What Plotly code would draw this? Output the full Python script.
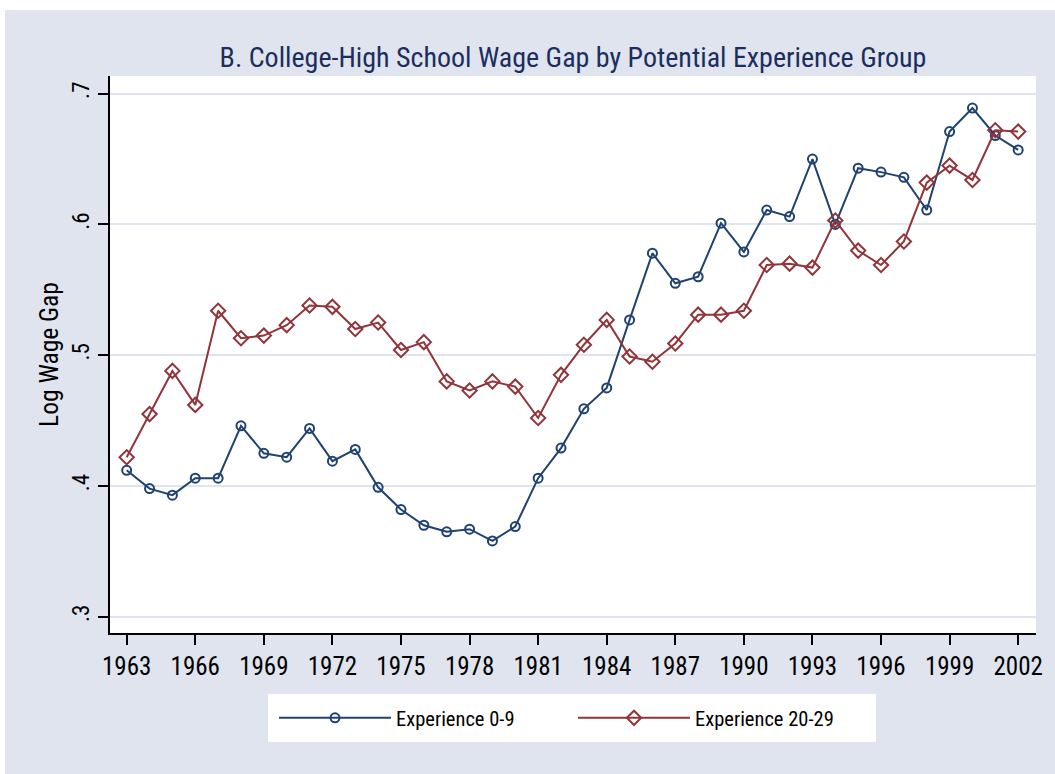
import plotly.graph_objects as go

years = list(range(1963, 2003))
exp_0_9 = [0.412, 0.398, 0.393, 0.406, 0.406, 0.446, 0.425, 0.422, 0.444, 0.419,
           0.428, 0.399, 0.382, 0.370, 0.365, 0.367, 0.358, 0.369, 0.406, 0.429,
           0.459, 0.475, 0.527, 0.578, 0.555, 0.560, 0.601, 0.579, 0.611, 0.606,
           0.650, 0.600, 0.643, 0.640, 0.636, 0.611, 0.671, 0.689, 0.668, 0.657]
exp_20_29 = [0.422, 0.455, 0.488, 0.462, 0.534, 0.513, 0.515, 0.523, 0.538, 0.537,
             0.520, 0.525, 0.504, 0.510, 0.480, 0.473, 0.480, 0.476, 0.452, 0.485,
             0.508, 0.527, 0.499, 0.495, 0.509, 0.531, 0.531, 0.534, 0.569, 0.570,
             0.567, 0.603, 0.580, 0.569, 0.587, 0.632, 0.645, 0.634, 0.672, 0.671]
x_ticks = list(range(1963, 2003, 3))
y_ticks = [0.3, 0.4, 0.5, 0.6, 0.7]
y_tick_text = [".3", ".4", ".5", ".6", ".7"]

NAVY = "#1f4270"
MAROON = "#91353b"
BG = "#dfe4ef"
GRID = "#dfe4ef"
FONT = "Roboto Condensed, Liberation Sans Narrow, Liberation Sans, Arial, sans-serif"

W, H = 1055, 774
L, R, T, B = 110, 19, 76, 141
pw, ph = W - L - R, H - T - B

def px_x(p):
    return (p - L) / pw

def px_y(p):
    return (H - B - p) / ph

fig = go.Figure()
fig.add_trace(go.Scatter(
    x=years, y=exp_0_9, mode="lines+markers", name="Experience 0-9",
    line=dict(color=NAVY, width=2),
    marker=dict(symbol="circle-open", size=9, color=NAVY, line=dict(width=2, color=NAVY)),
))
fig.add_trace(go.Scatter(
    x=years, y=exp_20_29, mode="lines+markers", name="Experience 20-29",
    line=dict(color=MAROON, width=2),
    marker=dict(symbol="diamond-open", size=11, color=MAROON, line=dict(width=2, color=MAROON)),
))

shapes = [
    # white strips outside the graph region
    dict(type="rect", xref="paper", yref="paper", x0=px_x(-50), x1=px_x(W + 50),
         y0=px_y(10), y1=px_y(-50), fillcolor="white", line=dict(width=0), layer="below"),
    dict(type="rect", xref="paper", yref="paper", x0=px_x(-50), x1=px_x(5),
         y0=px_y(H + 50), y1=px_y(-50), fillcolor="white", line=dict(width=0), layer="below"),
    # legend box
    dict(type="rect", xref="paper", yref="paper", x0=px_x(268), x1=px_x(876),
         y0=px_y(742), y1=px_y(694), fillcolor="white", line=dict(width=0), layer="below"),
]

fig.update_layout(
    width=W, height=H,
    margin=dict(l=L, r=R, t=T, b=B, autoexpand=False),
    paper_bgcolor=BG, plot_bgcolor="white",
    font=dict(family=FONT, size=22, color="black"),
    title=dict(text="B. College-High School Wage Gap by Potential Experience Group",
               x=0.5, xref="paper", xanchor="center",
               y=1 - 57 / H, yanchor="middle",
               font=dict(family=FONT, size=28, color="#1c2e5c")),
    showlegend=True,
    legend=dict(orientation="h", x=px_x(274), xanchor="left", y=px_y(718), yanchor="middle",
                bgcolor="rgba(0,0,0,0)", font=dict(size=20.5, color="black"),
                itemwidth=112, entrywidth=172, entrywidthmode="pixels"),
    shapes=shapes,
    xaxis=dict(range=[1962.27, 2002.78], tickvals=x_ticks, ticks="outside", ticklen=10,
               tickwidth=1.5, tickcolor="black", showgrid=False, zeroline=False,
               showline=True, linecolor="black", linewidth=1.5,
               tickfont=dict(size=25, color="black")),
    yaxis=dict(range=[0.2876, 0.7135], tickvals=y_ticks, ticktext=y_tick_text,
               ticks="outside", ticklen=10, tickwidth=1.5, tickcolor="black",
               tickangle=-90, showgrid=True, gridcolor=GRID, gridwidth=2,
               zeroline=False, showline=True, linecolor="black", linewidth=1.5,
               tickfont=dict(size=23, color="black"),
               title=dict(text="Log Wage Gap", font=dict(size=25.5, color="black"), standoff=2)),
)

fig.write_html("out.html", config={"displayModeBar": False},
               post_script="document.body.style.margin='0px';")
